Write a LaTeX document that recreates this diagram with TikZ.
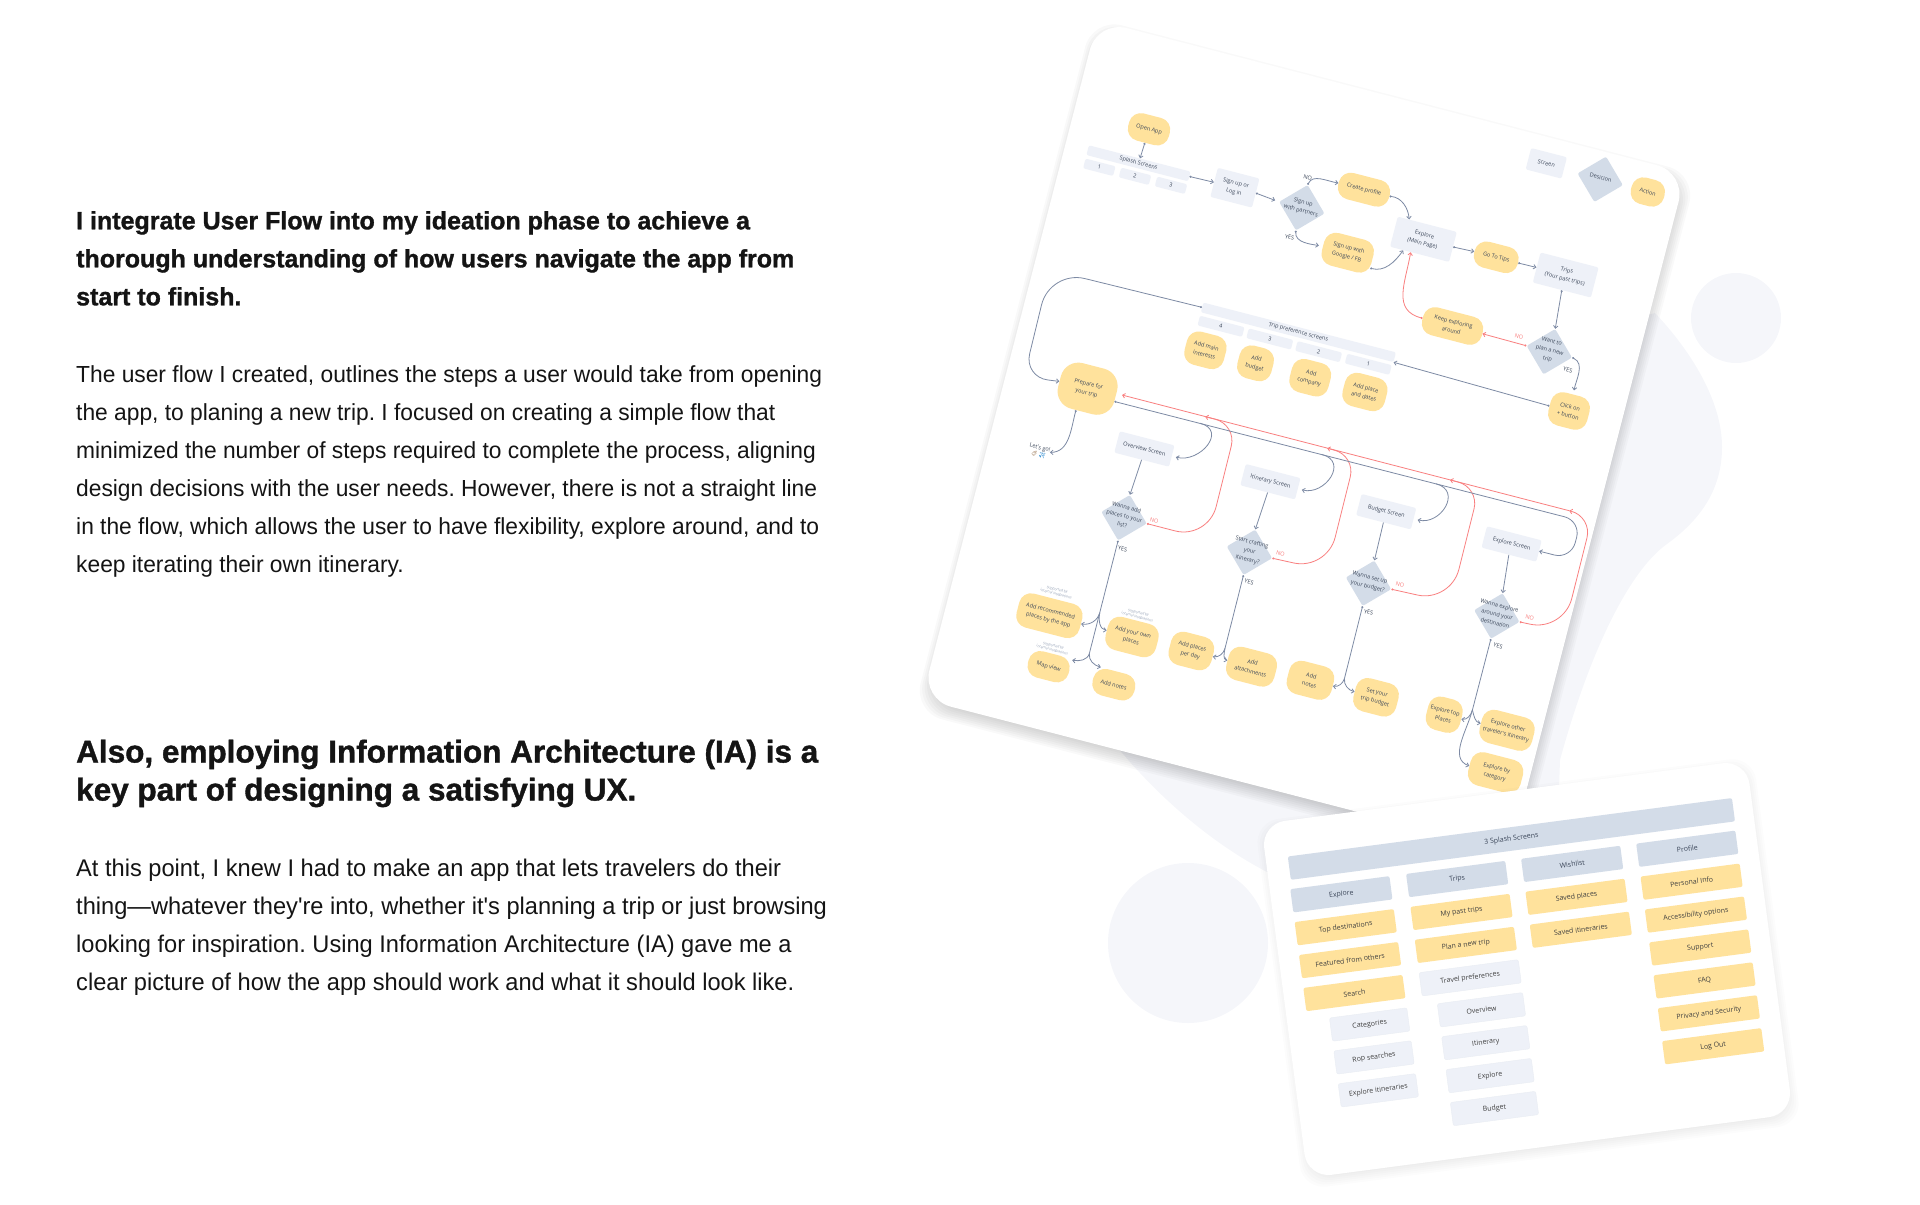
\documentclass[tikz,border=0pt]{standalone}
\usepackage{fontspec}
\usetikzlibrary{arrows.meta,positioning,calc,shapes.geometric}
\setmainfont{Liberation Sans}
\newfontfamily\bodyfont{Liberation Sans}[FakeStretch=0.98]
\newfontfamily\headfont{Liberation Sans}[FakeStretch=1.0,BoldFeatures={FakeStretch=1.0,FakeBold=1.2}]
\newfontfamily\flowfam{Open Sans}
\newfontfamily\emojifam{Noto Emoji}
\definecolor{PageBlob}{HTML}{F5F6FA}
\definecolor{ActionYellow}{HTML}{FFE29C}
\definecolor{ScreenGrey}{HTML}{EEF1F8}
\definecolor{DecisionBlue}{HTML}{D3DCE8}
\definecolor{FlowLine}{HTML}{7D8AA4}
\definecolor{FlowRed}{HTML}{F97F7F}
\definecolor{FlowText}{HTML}{3B4659}
\definecolor{NoteText}{HTML}{8C99B0}
\newcommand{\flowfont}{\flowfam\fontsize{5.6}{9}\selectfont}
\newcommand{\iafont}{\flowfam\fontsize{7}{9}\selectfont}
\newcommand{\inshape}[1]{\makebox[0pt]{\smash{\begin{tabular}{@{}c@{}}#1\end{tabular}}}}
\tikzset{
  flowbase/.style={rotate=-14.5,inner sep=0pt,align=center,font=\flowfont,text=FlowText},
  action/.style 2 args={flowbase,fill=ActionYellow,rounded corners=12pt,minimum width=#1pt+4pt,minimum height=#2pt+3pt},
  screen/.style={flowbase,fill=ScreenGrey,rounded corners=2pt},
  decision/.style={flowbase,diamond,aspect=1,fill=DecisionBlue,rounded corners=2pt,minimum width=47pt,minimum height=47pt},
  flowlabel/.style={flowbase},
  nolabel/.style={flowbase,text=FlowRed},
  flowlink/.style={draw=FlowLine,line width=0.8pt,{Circle[length=2pt]}-{Straight Barb[length=2.5pt,width=4.5pt]}},
  treelink/.style={draw=FlowLine,line width=0.8pt,-{Straight Barb[length=2.5pt,width=4.5pt]}},
  trunk/.style={draw=FlowLine,line width=0.8pt,{Circle[length=2pt]}-},
  redlink/.style={flowlink,draw=FlowRed},
  iabox/.style={rounded corners=2pt,minimum width=100pt,minimum height=23.5pt,inner sep=0pt,font=\iafont,text=black!75},
  iahead/.style={iabox,fill=DecisionBlue,text=FlowText},
  iaaction/.style={iabox,fill=ActionYellow},
  iascreen/.style={iabox,fill=ScreenGrey,draw=DecisionBlue!50,line width=0.4pt},
  para/.style={anchor=north west,inner sep=0pt,align=left,text=black!92},
  note/.style={flowbase,font=\flowfam\fontsize{3.4}{4.4}\selectfont,text=NoteText},
}
\frenchspacing
\begin{document}
\begin{tikzpicture}[x=1pt,y=1pt,node distance=9.3pt]
  \useasboundingbox (0,0) rectangle (1920,-1205);
  % left column
  \node[para,font=\headfont\bfseries\fontsize{25}{38}\selectfont] (heada) at (76,-211) {I integrate User Flow into my ideation phase to achieve a\\thorough understanding of how users navigate the app from\\start to finish.};
  \node[para,font=\bodyfont\fontsize{23.25}{38}\selectfont] (bodya) at (76,-365) {The user flow I created, outlines the steps a user would take from opening\\the app, to planing a new trip. I focused on creating a simple flow that\\minimized the number of steps required to complete the process, aligning\\design decisions with the user needs. However, there is not a straight line\\in the flow, which allows the user to have flexibility, explore around, and to\\keep iterating their own itinerary.};
  \node[para,font=\headfont\bfseries\fontsize{31.5}{38}\selectfont] (headb) at (76,-739.5) {Also, employing Information Architecture (IA) is a\\key part of designing a satisfying UX.};
  \node[para,font=\bodyfont\fontsize{24.1}{38}\selectfont] (bodyb) at (76,-859) {At this point, I knew I had to make an app that lets travelers do their\\thing—whatever they're into, whether it's planning a trip or just browsing\\looking for inspiration. Using Information Architecture (IA) gave me a\\clear picture of how the app should work and what it should look like.};
  % backdrop
  \fill[PageBlob] (1655,-313) .. controls (1690,-350) and (1722,-400) .. (1722,-447) .. controls (1722,-490) and (1700,-520) .. (1667,-544) .. controls (1630,-570) and (1590,-650) .. (1560,-760) -- (1555,-900) -- (1267,-872) .. controls (1215,-845) and (1160,-800) .. (1113,-742) -- (1300,-400) -- cycle;
  \fill[PageBlob] (1736,-318) circle (45);
  \fill[PageBlob] (1188,-943) circle (80);
  % flow card
  \foreach \s in {-6,-4,...,8}
    \fill[black,opacity=0.022,rounded corners=30pt,shift={(1305,-443)},rotate=-14.5] (-304-\s,-350.5-\s) rectangle (304+\s,350.5+\s);
  \node[rectangle,fill=white,rounded corners=30pt,rotate=-14.5,minimum width=608pt,minimum height=701pt,inner sep=0pt] (flowcard) at (1304,-436) {};
  % legend
  \node[screen,minimum width=37pt,minimum height=22pt] (lscreen) at (1546.3,-163.3) {Screen};
  \node[decision] (ldecision) at (1600.2,-179.3) {\inshape{Desicion}};
  \node[action={30}{24}] (laction) at (1647.8,-192) {Action};
  % top row
  \node[action={38}{25}] (openapp) at (1149,-129.3) {Open App};
  \node[screen,minimum width=105pt,minimum height=10pt] (splash) at (1138.5,-163.3) {Splash Screens};
  \node[screen,minimum width=31pt,minimum height=10pt] (splasha) at (1099.3,-167.3) {1};
  \node[screen,minimum width=31pt,minimum height=10pt] (splashb) at (1135,-176.3) {2};
  \node[screen,minimum width=31pt,minimum height=10pt] (splashc) at (1171,-185.3) {3};
  \node[screen,minimum width=43pt,minimum height=30pt] (signup) at (1234.9,-187.7) {Sign up or\\Log in};
  \node[decision] (partners) at (1301.8,-207.7) {\inshape{Sign up\\with partners}};
  \node[action={48.5}{24}] (create) at (1364,-189.7) {Create profile};
  \node[action={47}{30.5}] (google) at (1347.7,-252.7) {Sign up with\\Google / FB};
  \node[screen,minimum width=61pt,minimum height=31pt] (mainpage) at (1423.4,-239.3) {Explore\\(Main Page)};
  \node[action={41}{23.5}] (tips) at (1496.2,-257.3) {Go To Tips};
  \node[screen,minimum width=60pt,minimum height=31pt] (trips) at (1565.7,-275) {Trips\\(Your past trips)};
  \node[action={57.5}{25.5}] (keep) at (1452.5,-326) {Keep exploring\\around};
  \node[decision] (wantplan) at (1549.3,-351.7) {\inshape{Want to\\plan a new\\trip}};
  \node[action={36}{31}] (click) at (1569,-411) {Click on\\+ button};
  % trip preference screens
  \node[screen,minimum width=199pt,minimum height=10pt] (prefbar) at (1298.4,-332.3) {Trip preference screens};
  \node[screen,minimum width=46pt,minimum height=10pt] (prefd) at (1221,-326.3) {4};
  \node[screen,minimum width=46pt,minimum height=10pt] (prefc) at (1269.8,-339) {3};
  \node[screen,minimum width=46pt,minimum height=10pt] (prefb) at (1318.6,-351.7) {2};
  \node[screen,minimum width=46pt,minimum height=10pt] (prefa) at (1368.3,-364.3) {1};
  \node[action={36.5}{31}] (interests) at (1205.4,-350.3) {Add main\\interests};
  \node[action={31}{30.5}] (budget) at (1255.5,-363.3) {Add\\budget};
  \node[action={36}{31}] (company) at (1310.2,-377.7) {Add\\company};
  \node[action={39.5}{31}] (dates) at (1364.9,-392) {Add place\\and dates};
  \node[action={54}{44},rounded corners=18pt] (prepare) at (1087.6,-388.7) {Prepare for\\your trip};
  \node[flowlabel] (letsgo) at (1039,-451.5) {Let's go!\\[-1.5pt]{\emojifam\textcolor{brown!70!black}{\symbol{"1F9F3}}\,\textcolor{cyan!60!blue}{\symbol{"2708}}}};
  % screens and their decisions
  \node[screen,minimum width=56.5pt,minimum height=22pt] (overview) at (1144.4,-449) {Overview Screen};
  \node[screen,minimum width=56.5pt,minimum height=22pt] (itinerary) at (1270.4,-481.7) {Itinerary Screen};
  \node[screen,minimum width=56.5pt,minimum height=22pt] (budgets) at (1386.2,-511.7) {Budget Screen};
  \node[screen,minimum width=56.5pt,minimum height=22pt] (explores) at (1511.6,-544) {Explore Screen};
  \node[decision] (wantadd) at (1124,-517.7) {\inshape{Wanna add\\places to your\\list?}};
  \node[decision] (wantcraft) at (1249.4,-552.3) {\inshape{Start crafting\\your\\itinerary?}};
  \node[decision] (wantbudget) at (1368.5,-583.3) {\inshape{Wanna set up\\your budget?}};
  \node[decision] (wantexplore) at (1496.8,-616) {\inshape{Wanna explore\\around your\\destination}};
  % end actions
  \node[action={61}{32}] (recommended) at (1049.4,-615.7) {Add recommended\\places by the app};
  \node[action={48}{31}] (ownplaces) at (1132,-637) {Add your own\\places};
  \node[action={38}{24}] (mapview) at (1048.6,-666.7) {Map view};
  \node[action={39}{24}] (notesa) at (1113.8,-684.7) {Add notes};
  \node[action={40}{31}] (perday) at (1191.3,-651) {Add places\\per day};
  \node[action={45.5}{31}] (attach) at (1251.5,-666.7) {Add\\attachments};
  \node[action={42}{31}] (notesb) at (1310.4,-680.3) {Add\\notes};
  \node[action={40}{31}] (setbudget) at (1376,-697.3) {Set your\\trip budget};
  \node[action={31}{31}] (topplaces) at (1444.2,-714.7) {Explore top\\Places};
  \node[action={50}{31}] (others) at (1507,-730.3) {Explore other\\traveler's itinerary};
  \node[action={50}{31}] (category) at (1495.6,-772.7) {Explore by\\category};
  \node[note] (notea) at (1056.6,-592) {Supported by\\internal integrations};
  \node[note] (noteb) at (1137.8,-615) {Supported by\\internal integrations};
  \node[note] (notec) at (1052.8,-648) {Supported by\\internal integrations};
  % yes and no
  \node[flowlabel] (noa) at (1307.7,-177.3) {NO};
  \node[flowlabel] (yesa) at (1289.6,-237.3) {YES};
  \node[nolabel] (nob) at (1519,-336.3) {NO};
  \node[flowlabel] (yesb) at (1567.8,-369.7) {YES};
  \node[nolabel] (noc) at (1154.2,-521) {NO};
  \node[nolabel] (nod) at (1280.5,-553.3) {NO};
  \node[nolabel] (noe) at (1400,-584.3) {NO};
  \node[nolabel] (nof) at (1529.7,-617.7) {NO};
  \node[flowlabel] (yesc) at (1122.7,-549) {YES};
  \node[flowlabel] (yesd) at (1249,-581.7) {YES};
  \node[flowlabel] (yese) at (1368.5,-612.3) {YES};
  \node[flowlabel] (yesf) at (1498,-646) {YES};
  % connectors, first part
  \draw[flowlink] (openapp) -- (splash);
  \draw[flowlink] (splash.east) -- (signup.west);
  \draw[flowlink,shorten >=4pt] (signup.east) -- (partners.west);
  \draw[flowlink] (partners.north) to[out=65,in=170] (create.west);
  \draw[flowlink,shorten >=4pt] (partners.south) to[out=-95,in=170] (google.west);
  \draw[flowlink] (create.east) to[out=-5,in=95] (mainpage.140);
  \draw[flowlink] (google.-20) to[out=-15,in=-125] (mainpage.223);
  \draw[flowlink] (mainpage.east) -- (tips.west);
  \draw[flowlink] (tips.east) -- (trips.west);
  \draw[flowlink] (trips.south) -- (wantplan.north);
  \draw[redlink] (wantplan.west) -- (keep.east);
  \draw[redlink] (keep.west) to[out=165,in=-100,looseness=1.2] (mainpage.240);
  \draw[flowlink,shorten >=4pt] (wantplan.east) to[out=-25,in=80] (click.north);
  \draw[flowlink] (click.west) -- (prefbar.south east);
  \draw[flowlink] (prefbar.west) [rounded corners=36pt] -- (1050,-270) [rounded corners=24pt] -- (1024,-377) -- (prepare.west);
  \draw[flowlink] (prepare.-104) to[out=-105,in=0] (letsgo.10);
  % long rails
  \coordinate (railred) at (1122,-395);
  \coordinate (redstart) at (1569.2,-510.7);
  \coordinate (reda) at (1205.2,-416.7);
  \coordinate (redb) at (1327.2,-448.3);
  \coordinate (redc) at (1450,-480);
  \draw[treelink,draw=FlowRed] (redstart) -- (railred);
  \draw[redlink] (wantadd.east) [rounded corners=34pt] -- (1208,-539.4) [rounded corners=22pt] -- (1236.6,-424.6) -- (reda);
  \draw[redlink] (wantcraft.east) [rounded corners=34pt] -- (1326.9,-570.3) [rounded corners=22pt] -- (1355.6,-455.5) -- (redb);
  \draw[redlink] (wantbudget.east) [rounded corners=34pt] -- (1450.6,-602.4) [rounded corners=22pt] -- (1479.4,-487.4) -- (redc);
  \draw[redlink] (wantexplore.east) [rounded corners=34pt] -- (1563.5,-631.4) [rounded corners=22pt] -- (1592.3,-516.6) -- (redstart);
  \coordinate (railone) at (1200,-423.2);
  \coordinate (railtwo) at (1322,-454.5);
  \coordinate (railthree) at (1436,-483.8);
  \draw[flowlink] (prepare.-11) [rounded corners=17pt] -- (1581,-521) -- (1570.8,-559.2) -- (explores.east);
  \draw[treelink,shorten >=4pt] (railone) to[out=-14.5,in=-14.5,looseness=1.7] (overview.east);
  \draw[treelink,shorten >=4pt] (railtwo) to[out=-14.5,in=-14.5,looseness=1.7] (itinerary.east);
  \draw[treelink,shorten >=4pt] (railthree) to[out=-14.5,in=-14.5,looseness=1.7] (budgets.east);
  % screens down to decisions
  \draw[treelink] (overview.south) -- (wantadd.north);
  \draw[treelink] (itinerary.south) -- (wantcraft.north);
  \draw[treelink] (budgets.south) -- (wantbudget.north);
  \draw[treelink] (explores.south) -- (wantexplore.north);
  % trees
  \coordinate (treeab) at (1089.4,-653.3);
  \coordinate (treeaa) at ($(wantadd.south)!0.64!(treeab)$);
  \coordinate (treeb) at (1225,-648.3);
  \coordinate (treec) at (1344.5,-678.3);
  \coordinate (treed) at (1472.4,-710);
  \draw[trunk] (wantadd.south) -- (treeab);
  \draw[trunk] (wantcraft.south) -- (treeb);
  \draw[trunk] (wantbudget.south) -- (treec);
  \draw[trunk] (wantexplore.south) -- (treed);
  \draw[treelink] (treeaa) to[out=-105,in=-10] (recommended.east);
  \draw[treelink] (treeaa) to[out=-100,in=170] (ownplaces.west);
  \draw[treelink] (treeab) to[out=-105,in=-10] (mapview.30);
  \draw[treelink] (treeab) to[out=-100,in=165] (notesa.141);
  \draw[treelink] (treeb) to[out=-105,in=-10] (perday.east);
  \draw[treelink] (treeb) to[out=-100,in=165] (attach.west);
  \draw[treelink] (treec) to[out=-105,in=-10] (notesb.east);
  \draw[treelink] (treec) to[out=-100,in=165] (setbudget.west);
  \draw[treelink] (treed) to[out=-105,in=-10] (topplaces.east);
  \draw[treelink] (treed) to[out=-75,in=165] (others.west);
  \draw[treelink] (treed) to[out=-105,in=160] (category.west);
  % ia card
  \foreach \s in {-3,-1,...,7}
    \fill[black,opacity=0.012,rounded corners=24pt,shift={(1528,-973)},rotate=7.5] (-244.5-\s,-178.5-\s) rectangle (244.5+\s,178.5+\s);
  \begin{scope}[shift={(1527,-969)},rotate=7.5,transform shape]
    \node[rectangle,fill=white,rounded corners=24pt,minimum width=489.5pt,minimum height=357pt,inner sep=0pt] (iacard) at (0,0) {};
    \node[iahead,minimum width=448pt] (splashia) at (1.5,131) {3 Splash Screens};
    \node[iahead] (iaexplore) at (-174.3,98.3) {Explore};
    \node[iahead] (iatrips) at (-57.5,98.3) {Trips};
    \node[iahead] (iawish) at (58.5,98.3) {Wishlist};
    \node[iahead] (iaprofile) at (174.6,98.3) {Profile};
    \node[iaaction,below=of iaexplore] (topdest) {Top destinations};
    \node[iaaction,below=of topdest] (featured) {Featured from others};
    \node[iaaction,below=of featured] (search) {Search};
    \node[iascreen,minimum width=78pt,below=of search,xshift=11pt] (categories) {Categories};
    \node[iascreen,minimum width=78pt,below=of categories] (rop) {Rop searches};
    \node[iascreen,minimum width=78pt,below=of rop] (itins) {Explore itineraries};
    \node[iaaction,below=of iatrips] (pasttrips) {My past trips};
    \node[iaaction,below=of pasttrips] (newtrip) {Plan a new trip};
    \node[iascreen,below=of newtrip] (travelpref) {Travel preferences};
    \node[iascreen,minimum width=86pt,below=of travelpref,xshift=7pt] (iaoverview) {Overview};
    \node[iascreen,minimum width=86pt,below=of iaoverview] (iaitin) {Itinerary};
    \node[iascreen,minimum width=86pt,below=of iaitin] (iaexp) {Explore};
    \node[iascreen,minimum width=86pt,below=of iaexp] (iabudget) {Budget};
    \node[iaaction,below=of iawish] (savedp) {Saved places};
    \node[iaaction,below=of savedp] (savedi) {Saved itineraries};
    \node[iaaction,below=of iaprofile] (personal) {Personal Info};
    \node[iaaction,below=of personal] (access) {Accessibility options};
    \node[iaaction,below=of access] (support) {Support};
    \node[iaaction,below=of support] (faq) {FAQ};
    \node[iaaction,below=of faq] (privacy) {Privacy and Security};
    \node[iaaction,below=of privacy] (logout) {Log Out};
  \end{scope}
\end{tikzpicture}
\end{document}
